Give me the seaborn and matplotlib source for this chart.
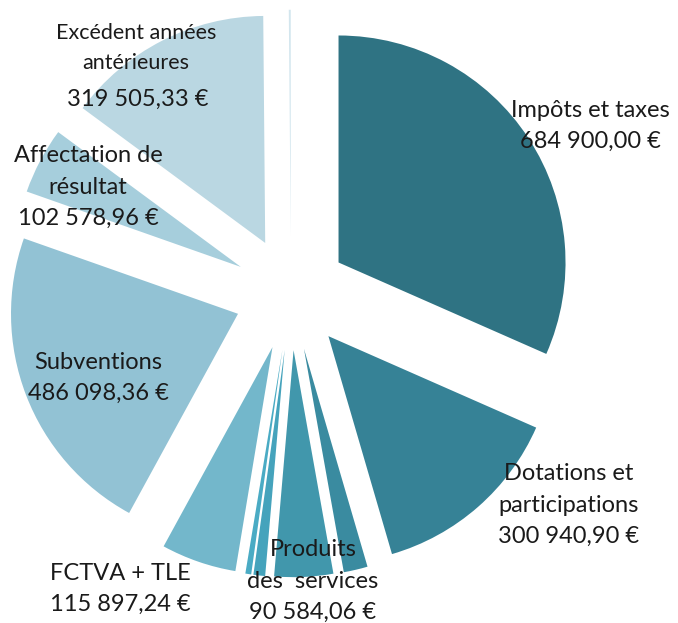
import matplotlib
matplotlib.use("Agg")
import matplotlib.pyplot as plt
import seaborn as sns

# Data (recettes), clockwise from 12 o'clock
labels = ["Impôts et taxes", "Dotations et participations", "Autres produits",
          "Produits des services", "Divers 1", "Divers 2", "FCTVA + TLE",
          "Subventions", "Affectation de résultat", "Excédent années antérieures",
          "Divers 3"]
values = [684900.00, 300940.90, 37000.00, 90584.06, 18000.00, 9000.00,
          115897.24, 486098.36, 102578.96, 319505.33, 3000.00]
colors = ["#2F7383", "#368296", "#3A8BA0", "#4197AC", "#45A3BC", "#4AABC4",
          "#73B7CB", "#92C2D4", "#A6CEDC", "#BAD7E2", "#D3E6EE"]

# label texts shown on the chart (text, x px, y px, font size)
label_texts = [
    ("Impôts et taxes\n684 900,00 €", 590, 126, 17),
    ("Dotations et\nparticipations\n300 940,90 €", 569, 505, 17),
    ("Produits\ndes  services\n90 584,06 €", 313, 581, 17),
    ("FCTVA + TLE\n115 897,24 €", 120, 589, 17),
    ("Subventions\n486 098,36 €", 98, 378, 17),
    ("Affectation de\nrésultat\n102 578,96 €", 88, 187, 17),
    ("Excédent années\nantérieures", 136, 48, 15.5),
    ("319 505,33 €", 138, 99, 17),
]

sns.set_theme(style="white")
plt.rcParams["font.family"] = ["Lato", "DejaVu Sans"]

W, H = 678, 623
fig = plt.figure(figsize=(W / 100, H / 100), dpi=100)
ax = fig.add_axes([0, 0, 1, 1])

ax.pie(values, colors=colors, startangle=90, counterclock=False,
       explode=[0.25] * len(values), radius=1.0,
       wedgeprops=dict(linewidth=0))

# pixel geometry of the reference: centre (291, 293.5), radius 227 px
cx, cy, r = 291, 293.5, 227
ax.set_xlim(-cx / r, (W - cx) / r)
ax.set_ylim((cy - H) / r, cy / r)
ax.set_aspect("auto")
ax.axis("off")

for txt, px, py, fs in label_texts:
    fig.text(px / W, 1 - py / H, txt, ha="center", va="center",
             fontsize=fs, color="#1a1a1a", linespacing=1.62)

fig.savefig("out.png", dpi=100)
